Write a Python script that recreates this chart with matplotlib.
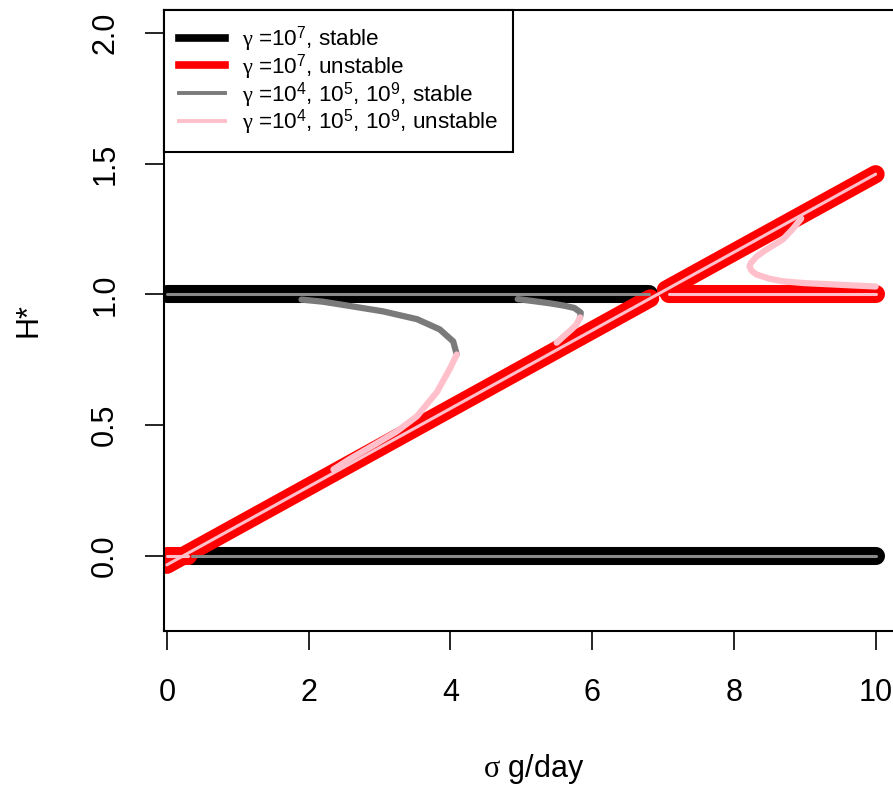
import matplotlib.pyplot as plt
from matplotlib.lines import Line2D

plt.rcParams['font.family'] = ['Liberation Sans', 'DejaVu Sans']
plt.rcParams['mathtext.fontset'] = 'custom'
plt.rcParams['mathtext.rm'] = 'Liberation Sans'
plt.rcParams['mathtext.it'] = 'Liberation Serif'

# gamma = 1e7 branches (sigma, H*)
h0_unst_s = [0.0, 0.3]
h0_unst_h = [0.0, 0.0]
h0_stab_s = [0.35, 10.0]
h0_stab_h = [0.0, 0.0]
h1_stab_s = [0.0, 6.8]
h1_stab_h = [1.0, 1.0]
h1_unst_s = [7.08, 10.0]
h1_unst_h = [1.0, 1.0]
diag_a_s = [0.0, 6.82]
diag_a_h = [-0.035, 0.985]
diag_b_s = [7.04, 10.0]
diag_b_h = [1.018, 1.46]

# other gammas (1e4, 1e5, 1e9)
fold1_stab_s = [1.9, 2.2, 2.48, 3.05, 3.53, 3.85, 4.04, 4.09]
fold1_stab_h = [0.98, 0.972, 0.96, 0.935, 0.905, 0.866, 0.82, 0.77]
fold1_unst_s = [4.09, 3.99, 3.81, 3.53, 3.24, 2.91, 2.58, 2.35]
fold1_unst_h = [0.77, 0.714, 0.626, 0.534, 0.475, 0.422, 0.37, 0.33]
fold2_stab_s = [4.95, 5.15, 5.4, 5.6, 5.75, 5.84, 5.83]
fold2_stab_h = [0.982, 0.975, 0.966, 0.957, 0.948, 0.93, 0.912]
fold2_unst_s = [5.83, 5.78, 5.71, 5.6, 5.5]
fold2_unst_h = [0.912, 0.885, 0.866, 0.84, 0.815]
fold3_unst_s = [8.95, 8.83, 8.69, 8.45, 8.32, 8.24, 8.22, 8.25, 8.32, 8.5, 8.69, 9.0, 9.39, 10.0]
fold3_unst_h = [1.29, 1.25, 1.21, 1.17, 1.145, 1.12, 1.107, 1.09, 1.076, 1.06, 1.05, 1.043, 1.038, 1.03]

fig = plt.figure(figsize=(8.93, 7.86), dpi=100)
ax = fig.add_axes([164 / 893, 155 / 786, 740 / 893, 621 / 786])

thick = dict(lw=13, solid_capstyle='round')
thin = dict(lw=2.2, solid_capstyle='round')
fold = dict(lw=4.5, solid_capstyle='round')

# gamma = 1e7
ax.plot(h0_stab_s, h0_stab_h, color='black', **thick)
ax.plot(h1_stab_s, h1_stab_h, color='black', **thick)
ax.plot(h0_unst_s, h0_unst_h, color='red', **thick)
ax.plot(h1_unst_s, h1_unst_h, color='red', **thick)
ax.plot(diag_a_s, diag_a_h, color='red', **thick)
ax.plot(diag_b_s, diag_b_h, color='red', **thick)

# other gammas
ax.plot(h0_stab_s, h0_stab_h, color='#8a8a8a', **thin)
ax.plot(h1_stab_s, h1_stab_h, color='#8a8a8a', **thin)
ax.plot(fold1_stab_s, fold1_stab_h, color='#7a7a7a', **fold)
ax.plot(fold2_stab_s, fold2_stab_h, color='#7a7a7a', **fold)
ax.plot(h0_unst_s, h0_unst_h, color='pink', **thin)
ax.plot([diag_a_s[0], diag_b_s[-1]], [diag_a_h[0], diag_b_h[-1]], color='pink', **thin)
ax.plot(h1_unst_s, h1_unst_h, color='pink', **thin)
ax.plot(fold1_unst_s, fold1_unst_h, color='pink', **fold)
ax.plot(fold2_unst_s, fold2_unst_h, color='pink', **fold)
ax.plot(fold3_unst_s, fold3_unst_h, color='pink', **fold)

ax.set_xlim(-0.04, 10.4)
ax.set_ylim(-0.288, 2.088)
ax.set_xticks([0, 2, 4, 6, 8, 10])
ax.set_yticks([0.0, 0.5, 1.0, 1.5, 2.0])
ax.set_yticklabels(['0.0', '0.5', '1.0', '1.5', '2.0'], rotation=90, va='center')
ax.tick_params(axis='both', direction='out', length=13.5, width=1.2, labelsize=22)
ax.tick_params(axis='x', pad=20)
ax.tick_params(axis='y', pad=18)
for sp in ax.spines.values():
    sp.set_linewidth(1.5)

ax.set_xlabel(r'$\sigma$ g/day', fontsize=22, labelpad=32)
ax.set_ylabel('H*', fontsize=22, labelpad=34)

handles = [
    Line2D([], [], color='black', lw=5.5),
    Line2D([], [], color='red', lw=5.5),
    Line2D([], [], color='#7a7a7a', lw=2.8),
    Line2D([], [], color='pink', lw=2.8),
]
labels = [
    r'$\gamma$ =10$^7$, stable',
    r'$\gamma$ =10$^7$, unstable',
    r'$\gamma$ =10$^4$, 10$^5$, 10$^9$, stable',
    r'$\gamma$ =10$^4$, 10$^5$, 10$^9$, unstable',
]
leg = ax.legend(handles, labels, loc='upper left', bbox_to_anchor=(0, 1),
                borderaxespad=0, fontsize=16.2, handlelength=2.05,
                handletextpad=0.75, labelspacing=-0.08, borderpad=0.65,
                fancybox=False, framealpha=1, edgecolor='black')
leg.get_frame().set_linewidth(1.5)

fig.savefig('out.png', dpi=100)
